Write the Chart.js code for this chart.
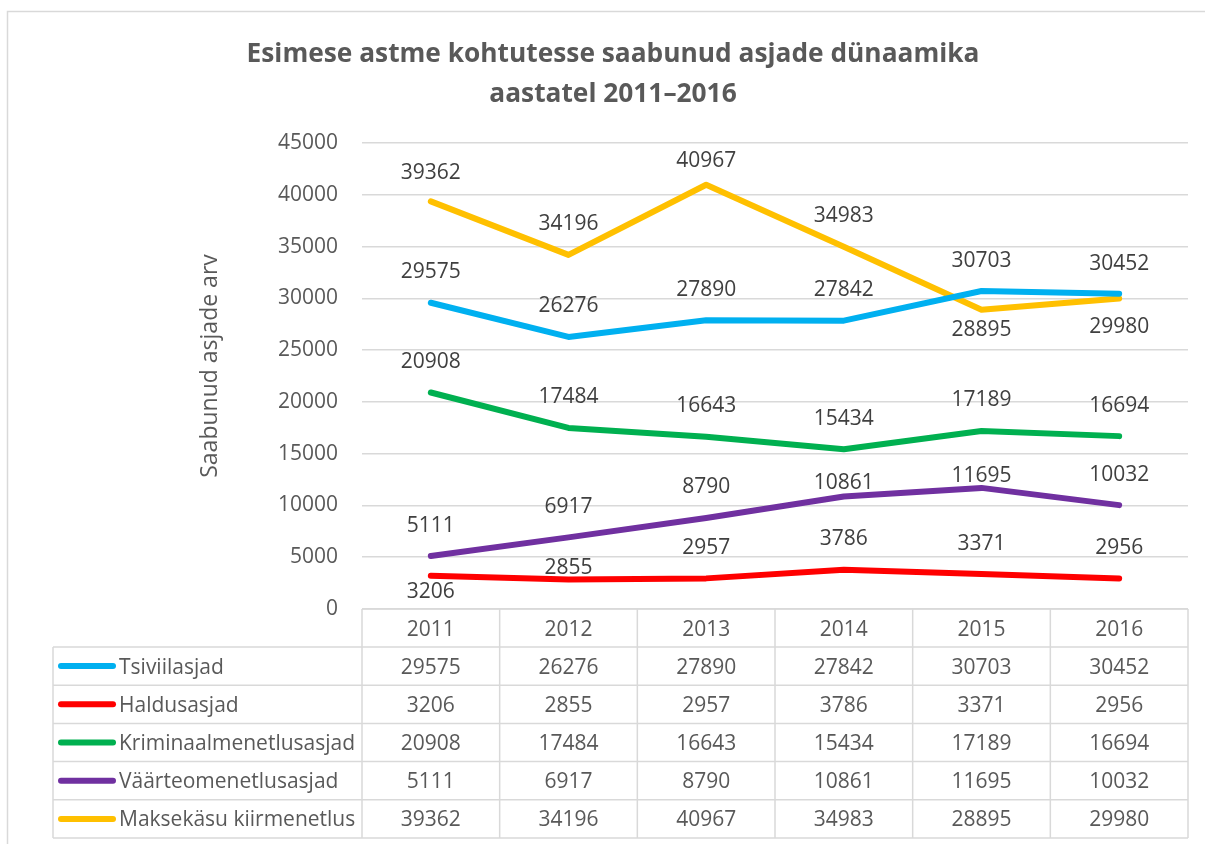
<!DOCTYPE html>
<html>
<head>
<meta charset="utf-8">
<script src="https://cdn.jsdelivr.net/npm/chart.js@4.4.0/dist/chart.umd.min.js"></script>
<style>
  html, body { margin: 0; padding: 0; background: #fff; }
  #wrap { width: 1205px; height: 844px; }
</style>
</head>
<body>
<div id="wrap"><canvas id="joonis" width="1205" height="844"></canvas></div>
<script>
// andmed (loetud pildilt)
const aastad = ['2011', '2012', '2013', '2014', '2015', '2016'];
const tsiviilasjad = [29575, 26276, 27890, 27842, 30703, 30452];
const haldusasjad = [3206, 2855, 2957, 3786, 3371, 2956];
const kriminaalasjad = [20908, 17484, 16643, 15434, 17189, 16694];
const vaarteoasjad = [5111, 6917, 8790, 10861, 11695, 10032];
const maksekasu = [39362, 34196, 40967, 34983, 28895, 29980];
const yMin = 0, yMax = 45000, ySamm = 5000;

const pealkiri = ['Esimese astme kohtutesse saabunud asjade dünaamika', 'aastatel 2011–2016'];
const yPealkiri = 'Saabunud asjade arv';

// siltide nihe punkti suhtes (px), Exceli käsitsi nihutatud sildid
const sildiNihe = {
  Tsiviilasjad: [-32, -32, -32, -32, -32, -31],
  Haldusasjad: [15, -13, -32, -32, -32, -32],
  Kriminaalmenetlusasjad: [-32, -32, -32, -32, -32, -32],
  'Väärteomenetlusasjad': [-32, -32, -32, -15, -13, -32],
  'Maksekäsu kiirmenetlus': [-30, -32, -25, -32, 19, 27]
};

const FONT = '"Open Sans", "Liberation Sans", sans-serif';
const HALL = '#D9D9D9';

function seeria(nimi, andmed, varv) {
  return {
    label: nimi,
    data: andmed,
    borderColor: varv,
    backgroundColor: varv,
    borderWidth: 6,
    borderCapStyle: 'round',
    borderJoinStyle: 'round',
    pointRadius: 0,
    tension: 0
  };
}

const lisad = {
  id: 'lisad',
  afterDraw(chart) {
    const ctx = chart.ctx;
    const ca = chart.chartArea;
    const x = chart.scales.x;
    ctx.save();

    // raam
    ctx.strokeStyle = HALL;
    ctx.lineWidth = 1.5;
    ctx.beginPath();
    ctx.moveTo(7.5, 844); ctx.lineTo(7.5, 11.5); ctx.lineTo(1205, 11.5);
    ctx.stroke();

    // pealkiri
    ctx.fillStyle = '#595959';
    ctx.font = 'bold 26.3px ' + FONT;
    ctx.textAlign = 'center';
    ctx.textBaseline = 'alphabetic';
    ctx.fillText(pealkiri[0], 613, 62);
    ctx.fillText(pealkiri[1], 613, 102);

    // y-telje pealkiri
    ctx.save();
    ctx.translate(217, 366);
    ctx.rotate(-Math.PI / 2);
    ctx.font = '23px ' + FONT;
    ctx.fillText(yPealkiri, 0, 0);
    ctx.restore();

    // andmesildid
    ctx.font = '21px ' + FONT;
    ctx.fillStyle = '#404040';
    chart.data.datasets.forEach((ds, i) => {
      const meta = chart.getDatasetMeta(i);
      meta.data.forEach((p, j) => {
        const nihe = sildiNihe[ds.label][j];
        ctx.fillText(String(ds.data[j]), p.x, p.y + nihe + 7.5);
      });
    });

    // andmetabel
    const colW = (ca.right - ca.left) / aastad.length;
    const pais = ca.bottom;
    const paisAll = pais + 38;
    const reaK = 38.2;
    const ds = chart.data.datasets;
    const tabAll = paisAll + reaK * ds.length;
    const legVasak = 53;

    ctx.strokeStyle = HALL;
    ctx.lineWidth = 1.5;
    ctx.beginPath();
    for (let i = 0; i <= aastad.length; i++) {
      const xx = ca.left + i * colW;
      ctx.moveTo(xx, pais); ctx.lineTo(xx, tabAll);
    }
    ctx.moveTo(legVasak, paisAll); ctx.lineTo(legVasak, tabAll);
    ctx.moveTo(ca.left, pais); ctx.lineTo(ca.right, pais);
    for (let r = 0; r <= ds.length; r++) {
      const yy = paisAll + r * reaK;
      ctx.moveTo(legVasak, yy); ctx.lineTo(ca.right, yy);
    }
    ctx.stroke();

    ctx.fillStyle = '#595959';
    ctx.font = '21px ' + FONT;
    ctx.textAlign = 'center';
    aastad.forEach((a, j) => {
      ctx.fillText(a, x.getPixelForValue(j), (pais + paisAll) / 2 + 7.5);
    });
    ds.forEach((d, r) => {
      const kesk = paisAll + r * reaK + reaK / 2;
      ctx.strokeStyle = d.borderColor;
      ctx.lineWidth = 6;
      ctx.lineCap = 'round';
      ctx.beginPath();
      ctx.moveTo(61, kesk); ctx.lineTo(113, kesk);
      ctx.stroke();
      ctx.textAlign = 'left';
      ctx.fillText(d.label, 119, kesk + 7.5);
      ctx.textAlign = 'center';
      d.data.forEach((v, j) => {
        ctx.fillText(String(v), x.getPixelForValue(j), kesk + 7.5);
      });
    });

    ctx.restore();
  }
};

new Chart(document.getElementById('joonis'), {
  type: 'line',
  data: {
    labels: aastad,
    datasets: [
      seeria('Tsiviilasjad', tsiviilasjad, '#00B0F0'),
      seeria('Haldusasjad', haldusasjad, '#FF0000'),
      seeria('Kriminaalmenetlusasjad', kriminaalasjad, '#00B050'),
      seeria('Väärteomenetlusasjad', vaarteoasjad, '#7030A0'),
      seeria('Maksekäsu kiirmenetlus', maksekasu, '#FFC000')
    ]
  },
  options: {
    responsive: false,
    animation: false,
    devicePixelRatio: 1,
    layout: { padding: { left: 0, right: 17, top: 143, bottom: 235 } },
    scales: {
      x: { display: false, offset: true },
      y: {
        min: yMin,
        max: yMax,
        afterFit(scale) { scale.width = 362; },
        border: { display: false },
        grid: { color: HALL, lineWidth: 1.5, drawTicks: false },
        ticks: {
          stepSize: ySamm,
          padding: 24,
          color: '#595959',
          font: { family: FONT, size: 21 },
          callback: (v) => String(v)
        }
      }
    },
    plugins: {
      legend: { display: false },
      title: { display: false },
      tooltip: { enabled: false }
    }
  },
  plugins: [lisad]
});
</script>
</body>
</html>
